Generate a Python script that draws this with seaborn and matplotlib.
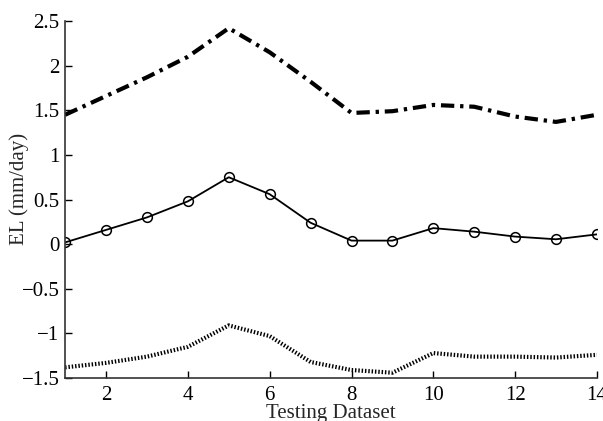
import matplotlib
matplotlib.use("Agg")
import matplotlib.pyplot as plt
import seaborn as sns
import pandas as pd

# values
datasets = list(range(1, 15))
upper = [1.45, 1.66, 1.87, 2.10, 2.42, 2.15, 1.82, 1.47, 1.49, 1.56, 1.54, 1.43, 1.37, 1.45]
mean_el = [0.02, 0.16, 0.30, 0.48, 0.75, 0.56, 0.24, 0.04, 0.04, 0.18, 0.14, 0.085, 0.055, 0.11]
lower = [-1.38, -1.33, -1.26, -1.15, -0.91, -1.03, -1.32, -1.41, -1.44, -1.22, -1.26, -1.26, -1.27, -1.24]

sns.set_style("ticks")
plt.rcParams['font.family'] = ['Liberation Serif', 'DejaVu Serif']
plt.rcParams['axes.unicode_minus'] = True

fig = plt.figure(figsize=(6.03, 4.21), dpi=100)
ax = fig.add_axes([0.108, 0.102, 0.882, 0.848])

df = pd.DataFrame({"x": datasets, "upper": upper, "mean": mean_el, "lower": lower})

sns.lineplot(data=df, x="x", y="upper", ax=ax, color="black", lw=3.0, legend=False)
ax.lines[-1].set_dashes((3.2, 1.4, 0.8, 1.4))
sns.lineplot(data=df, x="x", y="mean", ax=ax, color="black", lw=1.3,
             marker="o", markersize=7, markerfacecolor="none",
             markeredgecolor="black", markeredgewidth=1.1, legend=False)
sns.lineplot(data=df, x="x", y="lower", ax=ax, color="black", lw=3.0, legend=False)
ax.lines[-1].set_dashes((0.35, 0.45))

ax.set_xlim(1, 14)
ax.set_ylim(-1.5, 2.5)
ax.set_xticks([2, 4, 6, 8, 10, 12, 14])
ax.set_yticks([-1.5, -1, -0.5, 0, 0.5, 1, 1.5, 2, 2.5])
ax.set_yticklabels(["\u22121.5", "\u22121", "\u22120.5", "0", "0.5", "1", "1.5", "2", "2.5"])
ax.tick_params(direction="in", length=5, width=1, labelsize=15, colors="black")
ax.tick_params(axis="x", pad=6)
ax.tick_params(axis="y", pad=4)
ax.set_xlabel("Testing Dataset", fontsize=15)
ax.set_ylabel("EL (mm/day)", fontsize=15)
ax.xaxis.set_label_coords(0.5, -0.072)
ax.yaxis.set_label_coords(-0.068, 0.53)
sns.despine(ax=ax)
for s in ["left", "bottom"]:
    ax.spines[s].set_color("#333333")
    ax.spines[s].set_linewidth(1.2)

fig.savefig("out.png", dpi=100)
